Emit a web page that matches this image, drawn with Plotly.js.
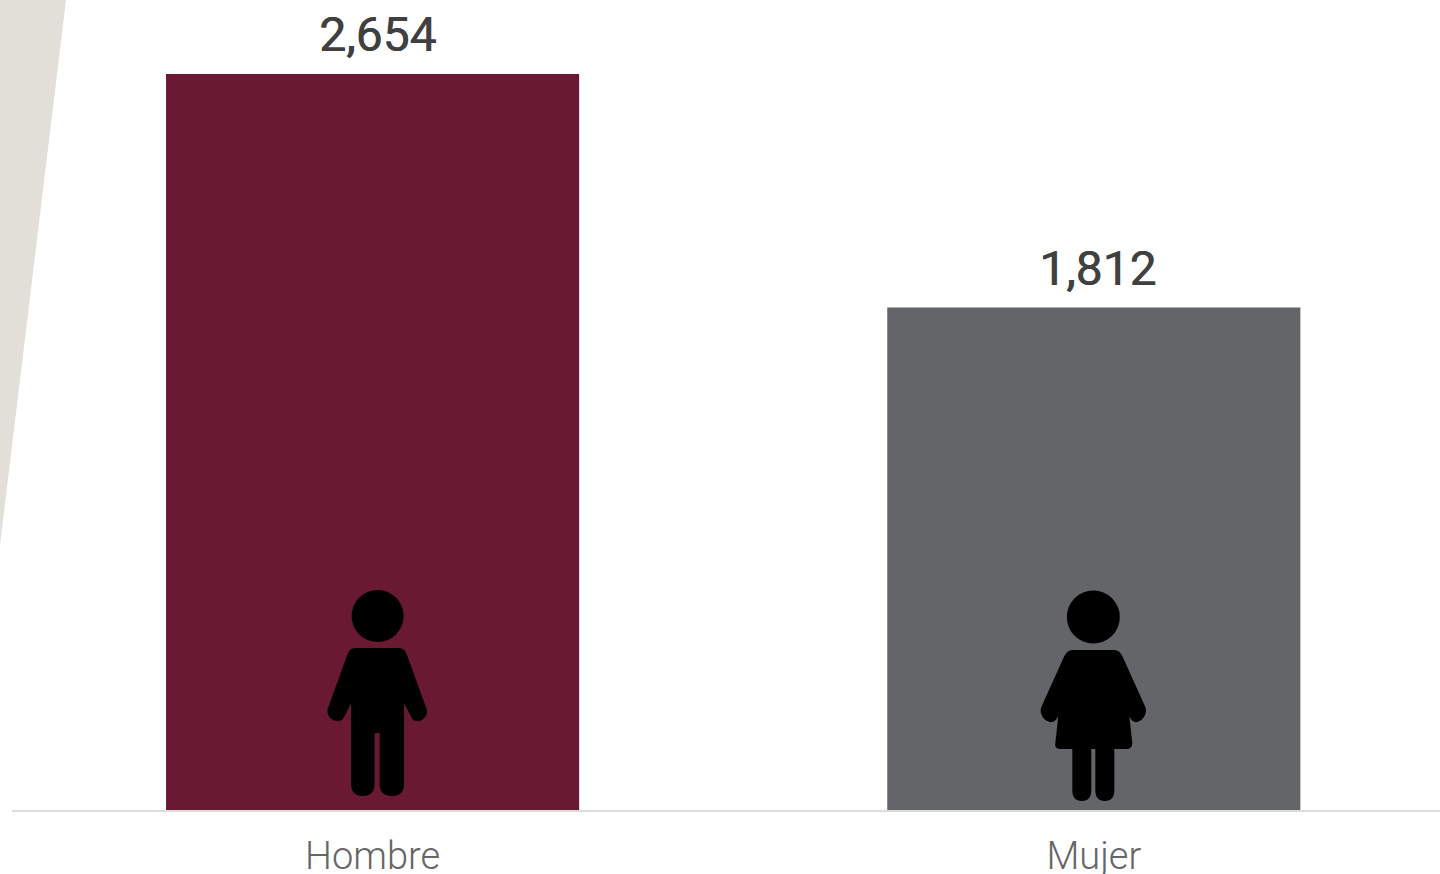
<!DOCTYPE html>
<html>
<head>
<meta charset="utf-8">
<script src="https://cdn.plot.ly/plotly-3.0.1.min.js"></script>
<style>html,body{margin:0;padding:0;background:#fff;overflow:hidden}#c{width:1440px;height:874px}</style>
</head>
<body>
<div id="c"></div>
<script>
const categories = ["Hombre", "Mujer"];
const values = [2654, 1812];
const barColors = ["#691a32", "#636569"];
const labelColor = "#404040";
const tickColor = "#666666";

const malePath = "M-17,162 L26,162 Q32,162 34,156 L54,101 C57,90 41,84 38,94 L31.5,107 L31.5,26 Q31.5,14 19.5,14 Q7,14 7,26 L7,77 L2,77 L2,26 Q2,14 -10,14 Q-21.5,14 -21.5,26 L-21.5,107 L-28,94 C-31,84 -47,90 -45,101 L-25,156 Q-23,162 -17,162 Z";
const femalePath = "M-21.5,160 L20.5,160 Q25.5,160 28.5,154 L51.5,103 C55.5,93 40.5,80 35.5,94 L38.5,67 Q38.5,61 32.5,61 L20.5,61 L20.5,20 Q20.5,9 11,9 Q1.5,9 1.5,20 L1.5,61 L-2.5,61 L-2.5,20 Q-2.5,9 -12,9 Q-21.5,9 -21.5,20 L-21.5,61 L-33.5,61 Q-39.5,61 -38.5,67 L-35.5,94 C-41.5,80 -56.5,93 -52.5,103 L-29.5,154 Q-26.5,160 -21.5,160 Z";

function icon(cat, path) {
  return {type:"path", layer:"above", xref:"x", yref:"y", xsizemode:"pixel", ysizemode:"pixel",
          xanchor:cat, yanchor:0, path:path, fillcolor:"#000", line:{width:0}};
}
function head(cat, dx, up, r) {
  return {type:"circle", layer:"above", xref:"x", yref:"y", xsizemode:"pixel", ysizemode:"pixel",
          xanchor:cat, yanchor:0, x0:dx-r, x1:dx+r, y0:up-r, y1:up+r, fillcolor:"#000", line:{width:0}};
}

const trace = {
  type:"bar", x:categories, y:values, width:0.5728,
  marker:{color:barColors, line:{width:0}}, hoverinfo:"x+y"
};

const layout = {
  width:1440, height:874, showlegend:false,
  margin:{l:12, r:0, t:0, b:64, pad:0},
  paper_bgcolor:"#ffffff", plot_bgcolor:"rgba(0,0,0,0)",
  font:{family:"Roboto, sans-serif"},
  xaxis:{type:"category", categoryorder:"array", categoryarray:categories, range:[-0.5,1.48],
         showgrid:false, zeroline:false, showline:true, linecolor:"#dcdcdc", linewidth:2,
         ticks:"", ticklabelstandoff:11,
         tickfont:{family:"Roboto, sans-serif", size:38, color:tickColor, weight:300}},
  yaxis:{range:[0,2921], visible:false, fixedrange:true},
  shapes:[
    {type:"path", layer:"below", xref:"paper", yref:"paper", xsizemode:"pixel", ysizemode:"pixel",
     xanchor:0, yanchor:1, path:"M-12,0 L54,0 L-12,-545 Z", fillcolor:"#e1dfd8", line:{width:0}},
    icon(0, malePath), head(0, 5, 194, 26),
    icon(1, femalePath), head(1, -0.5, 193, 26.5)
  ],
  annotations: categories.map((c,i)=>({
    x:c, y:values[i], xref:"x", yref:"y", yanchor:"bottom", xanchor:"center", xshift:i===0?5:4, yshift:9,
    text:values[i].toLocaleString("en-US"), showarrow:false,
    font:{family:"Roboto, sans-serif", size:48, color:labelColor, weight:400, shadow:"0.7px 0 0 #404040"}
  }))
};
Plotly.newPlot("c",[trace],layout,{displayModeBar:false,responsive:false});
</script>
</body>
</html>
